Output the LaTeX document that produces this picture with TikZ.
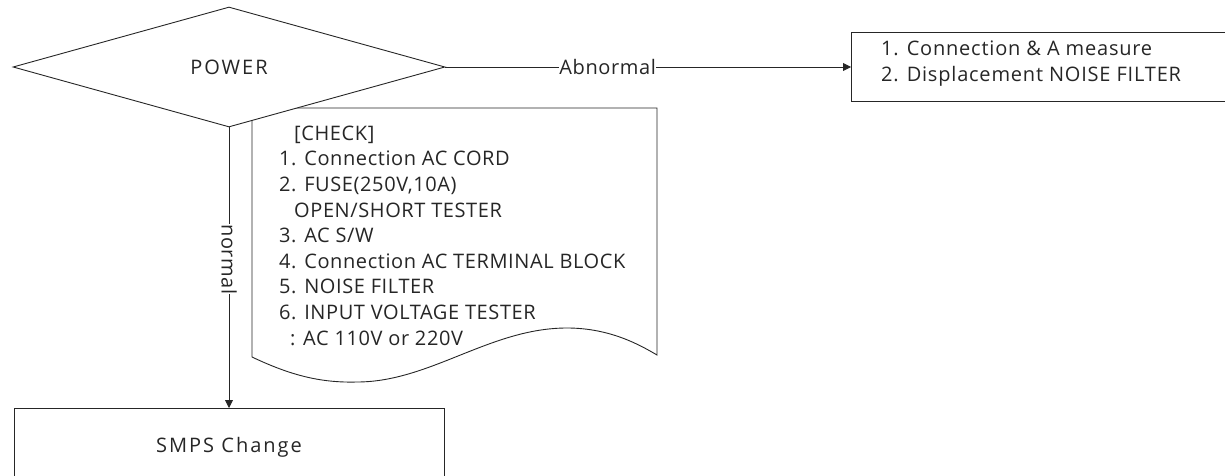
\documentclass[tikz,border=0pt]{standalone}
\usepackage{fontspec}
\setmainfont{Open Sans}[LetterSpace=3]
\usetikzlibrary{shapes.geometric,arrows.meta}
\begin{document}
\begin{tikzpicture}[x=1pt,y=-1pt,
  ln/.style={line width=0.9pt,draw=black!85},
  arr/.style={ln,-{Triangle[length=8pt,width=8pt]}},
  txt/.style={font=\fontsize{20}{25.6}\selectfont,text=black!85,inner sep=0pt},
  lbl/.style={txt,fill=white,inner sep=0pt,outer sep=0pt},
  boxstyle/.style={ln,rectangle,inner sep=0pt}]
\useasboundingbox (0,0) rectangle (1225,476);
\clip (0,0) rectangle (1225,476);
% check document shape
\draw[ln,fill=white] (252,357) -- (252,108) -- (657,108) -- (657,355)
  .. controls (640,345) and (610,328) .. (567,328)
  .. controls (490,328) and (430,382) .. (357,382)
  .. controls (320,383) and (290,375) .. (252,357) -- cycle;
\node[txt,anchor=base west,align=left] (check) at (279,345)
  {\hspace*{15pt}[CHECK]\\
   1. Connection AC CORD\\
   2. FUSE(250V,10A)\\
   \hspace*{15pt}OPEN/SHORT TESTER\\
   3. AC S/W\\
   4. Connection AC TERMINAL BLOCK\\
   5. NOISE FILTER\\
   6. INPUT VOLTAGE TESTER\\
   \hspace*{11pt}: AC 110V or 220V};
% diamond
\node[ln,fill=white,diamond,minimum width=432pt,minimum height=120pt,inner sep=0pt,aspect=3.6] (power) at (229,67) {};
\node[txt,font=\fontsize{20}{25.6}\selectfont\addfontfeature{LetterSpace=10}] (powertext) at (229,67) {POWER};
% right box
\draw[ln] (851,32) rectangle (1240,101);
\coordinate (rbox) at (851,67);
\node[txt,font=\fontsize{20}{26.5}\selectfont\addfontfeature{LetterSpace=4},anchor=base west,align=left] (rtext) at (881,81.7)
  {1. Connection \& A measure\\2. Displacement NOISE FILTER};
% SMPS box
\draw[ln] (14,408) rectangle (444,495);
\coordinate (sbox) at (229,408);
\node[txt,font=\fontsize{20}{25.6}\selectfont\addfontfeature{LetterSpace=10},anchor=base] (smps) at (229,452) {SMPS Change};
% connectors
\draw[arr] (power.east) -- node[lbl,pos=0.4] {Abnormal} (rbox);
\draw[arr] (power.south) -- node[lbl,pos=0.47,rotate=-90] {normal} (sbox);
\end{tikzpicture}
\end{document}
